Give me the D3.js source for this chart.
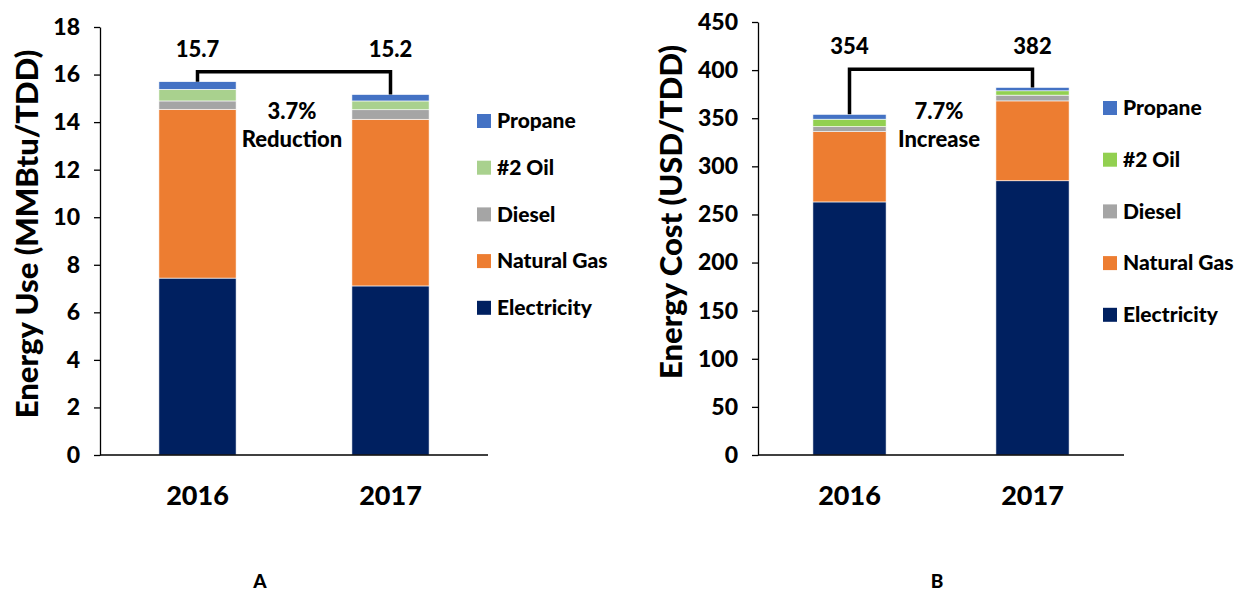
<!DOCTYPE html>
<html>
<head>
<meta charset="utf-8">
<script src="https://cdn.jsdelivr.net/npm/d3@7"></script>
<style>
  body { margin: 0; background: #fff; }
  svg { font-family: Lato, "Open Sans", sans-serif; font-weight: 900; }
</style>
</head>
<body>
<svg id="viz" width="1241" height="592"></svg>
<script>
// categories + series
var years = ["2016", "2017"];
var fuels = ["Electricity", "Natural Gas", "Diesel", "#2 Oil", "Propane"];

// energy use, MMBtu/TDD
var useElectricity = [7.44, 7.11];
var useNaturalGas = [7.10, 7.01];
var useDiesel = [0.35, 0.40];
var useOil = [0.49, 0.37];
var usePropane = [0.32, 0.27];
var useTotals = ["15.7", "15.2"];
var useTicks = [0, 2, 4, 6, 8, 10, 12, 14, 16, 18];

// energy cost, USD/TDD
var costElectricity = [263, 285];
var costNaturalGas = [73, 83];
var costDiesel = [5.3, 6];
var costOil = [7.7, 4.5];
var costPropane = [5, 3.5];
var costTotals = ["354", "382"];
var costTicks = [0, 50, 100, 150, 200, 250, 300, 350, 400, 450];

var svg = d3.select("#viz");

function drawPanel(p) {
  var g = svg.append("g");

  var y = d3.scaleLinear().domain([0, p.ticks[p.ticks.length - 1]]).range([455, p.yTop]);
  var x = d3.scaleBand().domain(years).range([p.x0, p.x1])
    .paddingInner(0.6).paddingOuter(0.3);
  var color = d3.scaleOrdinal().domain(fuels).range(p.colors);

  // build rows for stacking
  var rows = years.map(function(yr, i) {
    var r = { year: yr };
    fuels.forEach(function(f, k) { r[f] = p.series[k][i]; });
    return r;
  });
  var stacked = d3.stack().keys(fuels)(rows);

  g.selectAll("g.layer")
    .data(stacked)
    .enter().append("g")
      .attr("fill", function(d) { return color(d.key); })
    .selectAll("rect")
    .data(function(d) { return d; })
    .enter().append("rect")
      .attr("x", function(d) { return x(d.data.year); })
      .attr("y", function(d) { return y(d[1]); })
      .attr("width", x.bandwidth())
      .attr("height", function(d) { return y(d[0]) - y(d[1]); })
      .attr("stroke", "#fff")
      .attr("stroke-width", 0.6);

  // y axis
  var yAxis = g.append("g")
    .attr("transform", "translate(" + p.axisX + ",0)")
    .call(d3.axisLeft(y).tickValues(p.ticks).tickSize(6).tickSizeOuter(0).tickPadding(14));
  yAxis.select(".domain").attr("stroke", "#000").attr("stroke-width", 1.3);
  yAxis.selectAll(".tick line").attr("stroke", "#000").attr("stroke-width", 1.3);
  yAxis.selectAll("text").attr("font-size", 23).attr("font-weight", 900)
    .attr("font-family", "Lato").attr("fill", "#000");

  // baseline
  g.append("line")
    .attr("x1", p.axisX).attr("x2", p.x1 + (p.x0 - p.axisX))
    .attr("y1", y(0)).attr("y2", y(0))
    .attr("stroke", "#000").attr("stroke-width", 1.3);

  // category labels
  g.selectAll("text.cat")
    .data(years)
    .enter().append("text")
      .attr("class", "cat")
      .attr("x", function(d) { return x(d) + x.bandwidth() / 2; })
      .attr("y", 505)
      .attr("text-anchor", "middle")
      .attr("font-size", 27)
      .text(function(d) { return d; });

  // y title
  g.append("text")
    .attr("transform", "translate(" + p.titleX + "," + p.titleY + ") rotate(-90)")
    .attr("text-anchor", "middle")
    .attr("font-size", 31)
    .text(p.title);

  // bracket between the two totals
  var tops = rows.map(function(r) { return d3.sum(fuels, function(f) { return r[f]; }); });
  var cx = years.map(function(d) { return x(d) + x.bandwidth() / 2; });
  var by = y(p.bracketLevel);
  g.append("path")
    .attr("d", "M" + cx[0] + "," + y(tops[0]) + "V" + by + "H" + cx[1] + "V" + y(tops[1]))
    .attr("fill", "none").attr("stroke", "#000").attr("stroke-width", 3.5);

  g.selectAll("text.total")
    .data(p.totals)
    .enter().append("text")
      .attr("class", "total")
      .attr("x", function(d, i) { return cx[i]; })
      .attr("y", by - 15)
      .attr("text-anchor", "middle")
      .attr("font-size", 22)
      .text(function(d) { return d; });

  var mid = (cx[0] + cx[1]) / 2 - 2;
  g.append("text").attr("x", mid).attr("y", 119).attr("text-anchor", "middle")
    .attr("font-size", 22).text(p.change);
  g.append("text").attr("x", mid).attr("y", 147).attr("text-anchor", "middle")
    .attr("font-size", 22).text(p.changeWord);

  // legend, top to bottom reversed order
  var leg = g.selectAll("g.leg")
    .data(fuels.slice().reverse())
    .enter().append("g")
      .attr("transform", function(d, i) { return "translate(" + p.legX + "," + (p.legY + i * p.legStep) + ")"; });
  leg.append("rect").attr("x", 0).attr("y", -7).attr("width", 14).attr("height", 14)
    .attr("fill", function(d) { return color(d); });
  leg.append("text").attr("x", 20).attr("y", 0).attr("dy", "0.35em")
    .attr("font-size", 21).text(function(d) { return d; });

  // panel letter
  g.append("text").attr("x", p.letterX).attr("y", 588).attr("text-anchor", "middle")
    .attr("font-size", 19).text(p.letter);
}

drawPanel({
  series: [useElectricity, useNaturalGas, useDiesel, useOil, usePropane],
  totals: useTotals,
  ticks: useTicks,
  yTop: 27,
  axisX: 100, x0: 101, x1: 487,
  colors: ["#002060", "#ED7D31", "#A5A5A5", "#A9D18E", "#4472C4"],
  title: "Energy Use (MMBtu/TDD)", titleX: 38, titleY: 234,
  bracketLevel: 16.12,
  change: "3.7%", changeWord: "Reduction",
  legX: 477, legY: 121, legStep: 46.7,
  letter: "A", letterX: 260
});

drawPanel({
  series: [costElectricity, costNaturalGas, costDiesel, costOil, costPropane],
  totals: costTotals,
  ticks: costTicks,
  yTop: 22,
  axisX: 758, x0: 758, x1: 1124,
  colors: ["#002060", "#ED7D31", "#A5A5A5", "#92D050", "#4472C4"],
  title: "Energy Cost (USD/TDD)", titleX: 682, titleY: 212,
  bracketLevel: 401,
  change: "7.7%", changeWord: "Increase",
  legX: 1103, legY: 108, legStep: 51.7,
  letter: "B", letterX: 937
});
</script>
</body>
</html>
